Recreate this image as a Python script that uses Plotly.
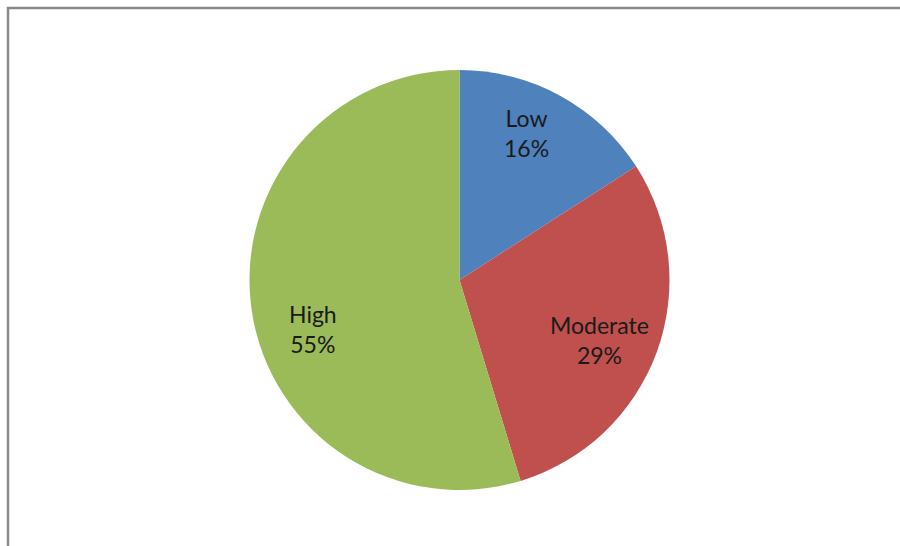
import math
import plotly.graph_objects as go

categories = ["Low", "Moderate", "High"]
values = [15.9, 29.4, 54.7]
colors = ["#4F81BD", "#C0504D", "#9BBB59"]
# small per-label nudges (pixels) to mimic the original label placement
label_nudge_x = [-7, -6, 7.5]
label_nudge_y = [10.5, -6, -26.5]

W, H = 900, 546
cx, cy, R = 459.5, 280, 210

fig = go.Figure(go.Pie(
    labels=categories, values=values, sort=False, direction="clockwise",
    rotation=0, marker=dict(colors=colors, line=dict(width=0)),
    textinfo="none", hoverinfo="label+percent", showlegend=False,
    domain=dict(x=[(cx - R) / W, (cx + R) / W], y=[1 - (cy + R) / H, 1 - (cy - R) / H]),
))

total = sum(values)
cum = 0
annotations = []
for lab, v, nx, ny in zip(categories, values, label_nudge_x, label_nudge_y):
    mid = (cum + v / 2) / total * 2 * math.pi
    cum += v
    r = 0.74 * R
    x = cx + r * math.sin(mid)
    y = cy - r * math.cos(mid)
    annotations.append(dict(
        x=x / W, y=1 - y / H, xref="paper", yref="paper", showarrow=False,
        xanchor="center", yanchor="middle",
        xshift=nx, yshift=ny,
        text=f"{lab}<br>{round(v / total * 100)}%", align="center",
        font=dict(family="Lato, Open Sans, sans-serif", size=23, color="#1a1a1a"),
    ))

fig.update_layout(
    width=W, height=H, margin=dict(l=0, r=0, t=0, b=0),
    paper_bgcolor="white", plot_bgcolor="white",
    annotations=annotations,
    shapes=[dict(type="rect", xref="paper", yref="paper",
                 x0=8 / W, x1=1.05, y0=-0.05, y1=1 - 8 / H,
                 line=dict(color="#8a8a8a", width=2.5))],
)

fig.write_html("out.html")
